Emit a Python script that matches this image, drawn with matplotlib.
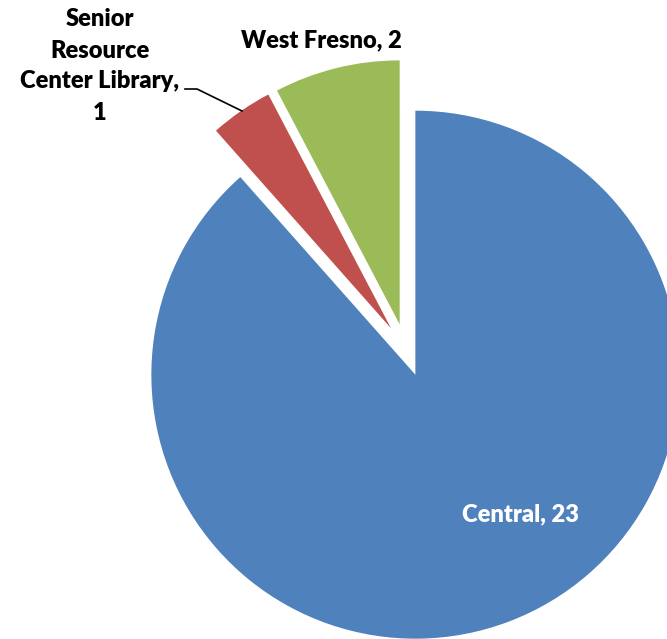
import matplotlib
matplotlib.use("Agg")
import matplotlib.pyplot as plt

names = ["Central", "Senior Resource Center Library", "West Fresno"]
values = [23, 1, 2]
colors = ["#4F81BD", "#C0504D", "#9BBB59"]

W, H = 667, 639
fig = plt.figure(figsize=(W / 100, H / 100), dpi=100)
ax = fig.add_axes([0, 0, 1, 1])

cx, cy = 406, H - 350
R = 264
ax.pie(values, colors=colors, startangle=90, counterclock=False,
       explode=[0.1 * R] * 3, radius=R, center=(cx, cy), frame=True,
       wedgeprops=dict(linewidth=0))
ax.set_xlim(0, W)
ax.set_ylim(0, H)
ax.set_aspect("auto")
ax.axis("off")

font = dict(family=["Lato", "DejaVu Sans"], fontweight="heavy", fontsize=17)

ax.text(520, H - 514, f"{names[0]}, {values[0]}", color="white",
        ha="center", va="center", **font)
ax.text(321, H - 40, f"{names[2]}, {values[2]}", color="black",
        ha="center", va="center", **font)
ax.text(100, H - 66, f"Senior\nResource\nCenter Library,\n{values[1]}",
        color="black", ha="center", va="center", linespacing=1.5, **font)
ax.plot([185, 197, 242], [H - 89, H - 89, H - 111], color="black", lw=1.2)

fig.savefig("out.png", dpi=100)
